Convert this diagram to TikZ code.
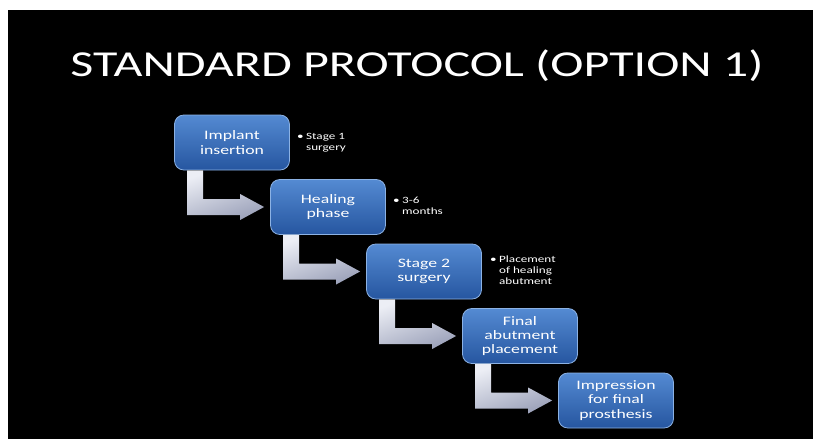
\documentclass[tikz,border=0pt]{standalone}
\usepackage{fontspec}
\usetikzlibrary{calc}
\newfontfamily\slidefont[FakeStretch=1.37]{Carlito}
\definecolor{boxtop}{RGB}{84,138,210}
\definecolor{boxbottom}{RGB}{38,86,160}
\definecolor{boxline}{RGB}{140,178,228}
\definecolor{arrowlight}{RGB}{236,238,245}
\definecolor{arrowdark}{RGB}{156,162,186}

\begin{document}
\begin{tikzpicture}[x=0.75pt, y=-0.75pt,
    stepbox/.style={rectangle, rounded corners=7pt, draw=boxline, line width=0.6pt,
      top color=boxtop, bottom color=boxbottom, minimum width=86.25pt,
      minimum height=41.25pt, inner sep=0pt, align=center, text=white,
      font=\slidefont\fontsize{9.7}{10.6}\selectfont},
    note/.style={anchor=west, inner sep=0pt, text=white,
      font=\slidefont\fontsize{7.2}{8.4}\selectfont},
    bentarrow/.style={top color=arrowlight, bottom color=arrowdark, shading angle=20}]

            % Background
            \useasboundingbox (0,0) rectangle (813,439);
            \fill[black] (8,10) rectangle (813,439);

            % Title
            \node[anchor=base, text=white, font=\slidefont\fontsize{27.4}{32}\selectfont]
              (title) at (417,76) {STANDARD PROTOCOL (OPTION 1)};

            % Steps
            \foreach \i/\txt in {1/{Implant\\insertion}, 2/{Healing\\phase},
                3/{Stage 2\\surgery}, 4/{Final\\abutment\\placement},
                5/{Impression\\for final\\prosthesis}}
            \node[stepbox] (B\i) at ({136+96*\i},{78+64.5*\i}) {\txt};

            % Connect Steps
            \foreach \i in {1,...,4} {
              \pgfmathtruncatemacro{\j}{\i+1}
              \coordinate (A\i) at ($(B\i.south west)+(13,0)$);
              \coordinate (H\i) at ($(B\j.west)+(-30,0)$);
              \fill[bentarrow] (A\i) -- ++(16,0) -- ($(A\i |- H\i)+(16,-8)$)
                -- ($(H\i)+(0,-8)$) -- ($(H\i)+(0,-13)$) -- ($(B\j.west)+(-6,0)$)
                -- ($(H\i)+(0,13)$) -- ($(H\i)+(0,8)$) -- ($(A\i |- H\i)+(0,8)$) -- cycle;
            }

            % Notes
            \node[note] (N1) at ($(B1.east)+(7,0)$)
              {\begin{tabular}{@{}l@{}l@{}}\makebox[6.75pt][l]{\textbullet} & Stage 1\\ & surgery\end{tabular}};
            \node[note] (N2) at ($(B2.east)+(7,0)$)
              {\begin{tabular}{@{}l@{}l@{}}\makebox[6.75pt][l]{\textbullet} & 3-6\\ & months\end{tabular}};
            \node[note] (N3) at ($(B3.east)+(8,0)$)
              {\begin{tabular}{@{}l@{}l@{}}\makebox[6.75pt][l]{\textbullet} & Placement\\ & of healing\\ & abutment\end{tabular}};

        \end{tikzpicture}
\end{document}
